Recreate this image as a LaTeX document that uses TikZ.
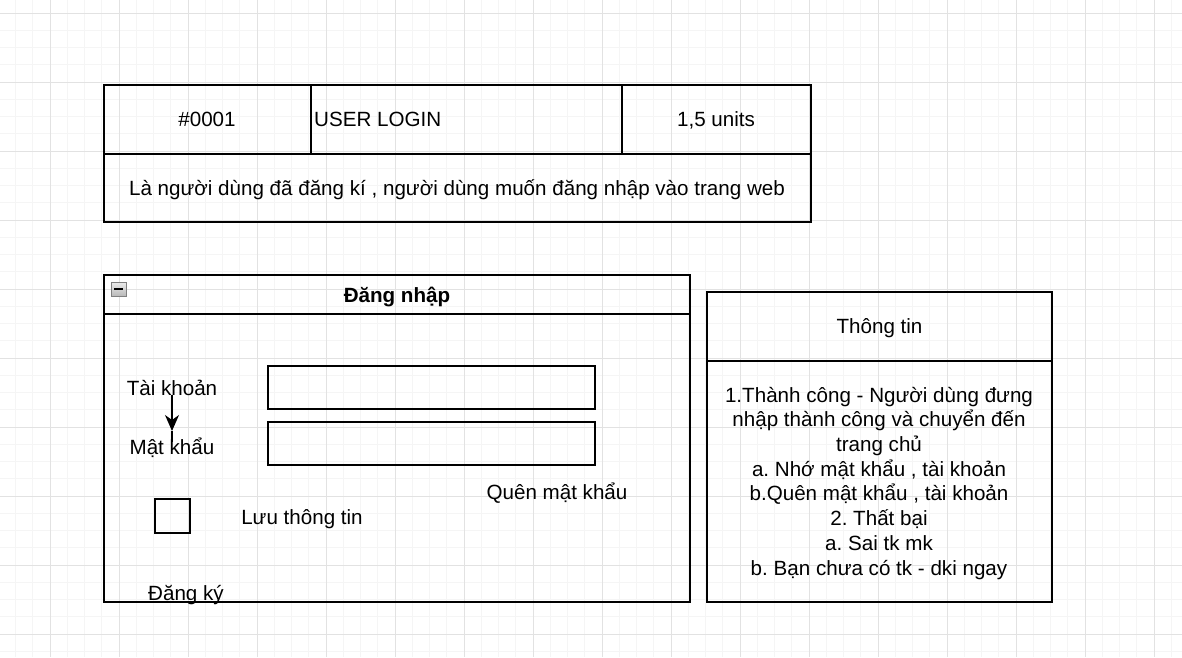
\documentclass[tikz,border=0pt]{standalone}
\usepackage{fontspec}
\setmainfont{Liberation Sans}
\usetikzlibrary{arrows.meta}
\definecolor{gridminor}{HTML}{F5F5F5}
\definecolor{gridmajor}{HTML}{E2E2E2}
\frenchspacing

\begin{document}
\begin{tikzpicture}[x=1pt, y=-1pt,
    box/.style={line width=1.8pt},
    label/.style={inner sep=0pt, anchor=base, font=\fontsize{20.6}{24.7}\selectfont}]
  \useasboundingbox (0,0) rectangle (1182,657);
  \fill[white] (0,0) rectangle (1182,657);
  % background grid
  \begin{scope}
    \clip (0,0) rectangle (1182,657);
    \foreach \i in {0,...,70}
      \draw[gridminor, line width=0.7pt] ({-19+17.25*\i},0) -- ++(0,657);
    \foreach \i in {0,...,40}
      \draw[gridminor, line width=0.7pt] (0,{-4.25+17.25*\i}) -- ++(1182,0);
    \foreach \i in {0,...,18}
      \draw[gridmajor, line width=0.7pt] ({-19+69*\i},0) -- ++(0,657);
    \foreach \i in {0,...,10}
      \draw[gridmajor, line width=0.7pt] (0,{13+69*\i}) -- ++(1182,0);
  \end{scope}

  % story card
  \draw[box] (104,85) rectangle (811,222);
  \draw[box] (104,154) -- (811,154);
  \draw[box] (311,85) -- (311,154);
  \draw[box] (622,85) -- (622,154);
  \node[label] (id) at (207,126) {\#0001};
  \node[label, anchor=base west] (title) at (314,126) {USER LOGIN};
  \node[label] (pts) at (716,126) {1,5 units};
  \node[label] (story) at (457,195) {Là người dùng đã đăng kí , người dùng muốn đăng nhập vào trang web};

  % login window
  \draw[box] (104,275) rectangle (690,602);
  \draw[box] (104,314) -- (690,314);
  \shade[top color=gray!15, bottom color=gray!55, draw=gray] (111,282) rectangle (126,296);
  \draw[line width=1.5pt] (114,289) -- (123,289);
  \node[label, font=\bfseries\fontsize{20.6}{24.7}\selectfont] (login) at (397,302) {Đăng nhập};

  \node[label] (tk) at (172,395) {Tài khoản};
  \node[label] (mk) at (172,454) {Mật khẩu};
  \draw[box] (268,366) rectangle (595,409);
  \draw[box] (268,422) rectangle (595,465);
  \coordinate (tip) at (172,431);
  \draw[line width=1.5pt, -{Stealth[length=16pt,width=14pt,inset=5pt]}] (tk.south) -- (tip);
  \draw[line width=1.5pt] (tip) -- (172,442);

  \draw[box] (155,499) rectangle (190,533);
  \node[label] (save) at (302,524) {Lưu thông tin};
  \node[label] (forgot) at (557,499) {Quên mật khẩu};
  \node[label] (reg) at (186,600) {Đăng ký};

  % result panel
  \draw[box] (707,292) rectangle (1052,602);
  \draw[box] (707,361) -- (1052,361);
  \node[label] (info) at (879.5,333) {Thông tin};
  \node[label, align=center] (result) at (879,575) {1.Thành công - Người dùng đưng\\nhập thành công và chuyển đến\\trang chủ\\a. Nhớ mật khẩu , tài khoản\\b.Quên mật khẩu , tài khoản\\2. Thất bại\\a. Sai tk mk\\b. Bạn chưa có tk - dki ngay};
\end{tikzpicture}
\end{document}
